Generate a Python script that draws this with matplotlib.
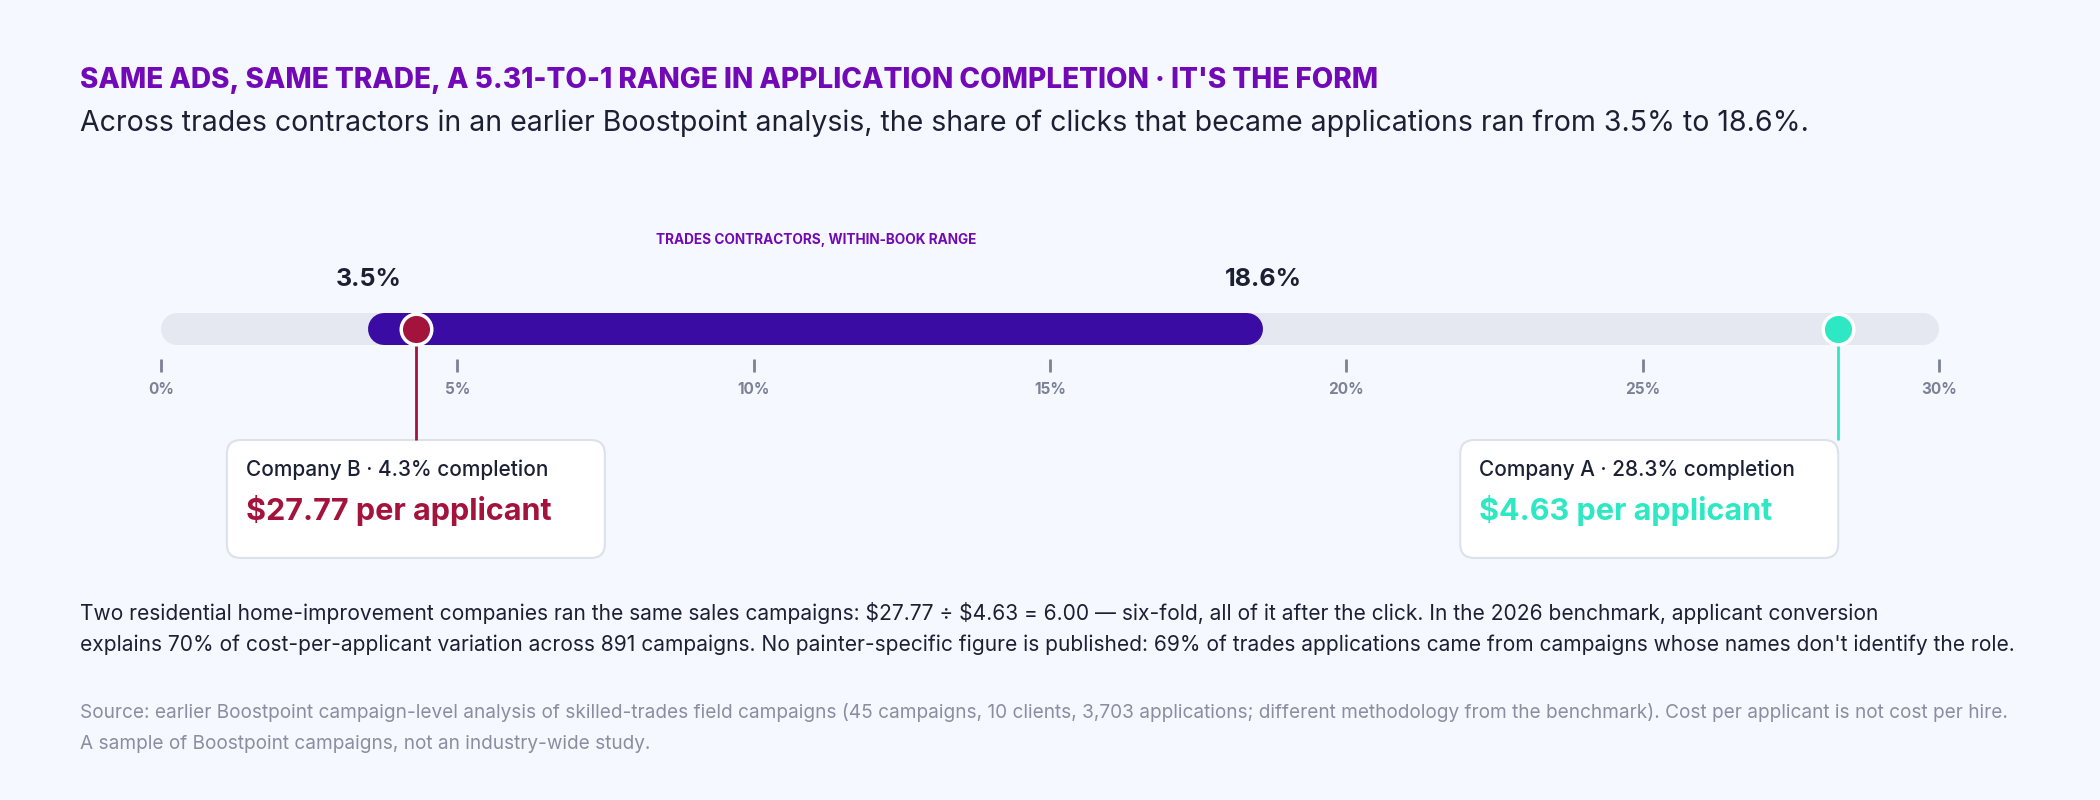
import numpy as np
import matplotlib.pyplot as plt
from matplotlib.patches import FancyBboxPatch

plt.rcParams['font.family'] = ['Inter', 'DejaVu Sans']

title = "SAME ADS, SAME TRADE, A 5.31-TO-1 RANGE IN APPLICATION COMPLETION · IT'S THE FORM"
subtitle = ("Across trades contractors in an earlier Boostpoint analysis, the share of clicks "
            "that became applications ran from 3.5% to 18.6%.")
range_label = "TRADES CONTRACTORS, WITHIN-BOOK RANGE"

scale_min, scale_max = 0, 30
ticks = [0, 5, 10, 15, 20, 25, 30]
range_low, range_high = 3.5, 18.6

companies = ["Company B", "Company A"]
completion = [4.3, 28.3]
cost_per_applicant = [27.77, 4.63]
company_colors = ["#a4133c", "#2ee8c3"]

body = ["Two residential home-improvement companies ran the same sales campaigns: $27.77 \u00f7 $4.63 = 6.00 \u2014 "
        "six-fold, all of it after the click. In the 2026 benchmark, applicant conversion",
        "explains 70% of cost-per-applicant variation across 891 campaigns. No painter-specific figure is published: "
        "69% of trades applications came from campaigns whose names don't identify the role."]
source = ["Source: earlier Boostpoint campaign-level analysis of skilled-trades field campaigns (45 campaigns, 10 clients, "
          "3,703 applications; different methodology from the benchmark). Cost per applicant is not cost per hire.",
          "A sample of Boostpoint campaigns, not an industry-wide study."]

BG = "#f5f8ff"
DARK = "#1c2033"
GRAY = "#7c8196"
PURPLE = "#7209b7"
RANGE = "#3a0ca3"
TRACK = "#e5e8f1"

W, H = 2100, 800
fig = plt.figure(figsize=(W / 100, H / 100), dpi=100, facecolor=BG)

# pixel layer for text and boxes
bg = fig.add_axes([0, 0, 1, 1], zorder=0)
bg.set_xlim(0, W)
bg.set_ylim(H, 0)
bg.axis('off')

# data layer: x in percent, y in pixels
left_px, right_px = 161, 1939
ppp = (right_px - left_px) / (scale_max - scale_min)
ax = fig.add_axes([0, 0, 1, 1], zorder=1)
ax.set_xlim(scale_min - left_px / ppp, scale_min + (W - left_px) / ppp)
ax.set_ylim(H, 0)
ax.axis('off')
ax.patch.set_alpha(0)

track_y = 329
bar_h = 32
cap = (bar_h / 2) / ppp
lw_pt = bar_h * 72 / 100

bg.text(80, 80, title, fontsize=20.1, fontweight='heavy', color=PURPLE, va='center')
bg.text(80, 123, subtitle, fontsize=20.5, color=DARK, va='center')

mid = (range_low + range_high) / 2
ax.text(mid, 240, range_label, fontsize=9.8, fontweight='bold', color=PURPLE, ha='center', va='center')

ax.plot([scale_min + cap, scale_max - cap], [track_y, track_y], color=TRACK, lw=lw_pt,
        solid_capstyle='round', zorder=2)
ax.plot([range_low + cap, range_high - cap], [track_y, track_y], color=RANGE, lw=lw_pt,
        solid_capstyle='round', zorder=3)

for v in [range_low, range_high]:
    ax.text(v, 279, f"{v}%", fontsize=18, fontweight='bold', color=DARK, ha='center', va='center')

ax.vlines(ticks, 359, 372, color=GRAY, lw=2)
for t in ticks:
    ax.text(t, 390, f"{t}%", fontsize=11, fontweight='bold', color=GRAY, ha='center', va='center')

box_w, box_h = 378, 118
box_top = 440
for name, pct, cost, col in zip(companies, completion, cost_per_applicant, company_colors):
    ax.vlines(pct, track_y, box_top, color=col, lw=2, zorder=4)
    ax.plot(pct, track_y, 'o', ms=22, mfc=col, mec='white', mew=2.5, zorder=5)
    xp = ax.transData.transform((pct, 0))[0]
    if pct > 0.8 * scale_max:
        bx = xp - box_w
    else:
        bx = xp - box_w / 2
    box = FancyBboxPatch((bx + 14, box_top + 14), box_w - 28, box_h - 28,
                         boxstyle="round,pad=14", fc='white', ec="#dde1ec", lw=1.5)
    bg.add_patch(box)
    bg.text(bx + 19, 470, f"{name} \u00b7 {pct}% completion", fontsize=15, fontweight='medium',
            color=DARK, va='center')
    bg.text(bx + 19, 511, f"${cost:.2f} per applicant", fontsize=22, fontweight='bold',
            color=col, va='center', parse_math=False)

for i, line in enumerate(body):
    bg.text(80, 613 + 32 * i, line, fontsize=15.1, color=DARK, va='center', parse_math=False)
for i, line in enumerate(source):
    bg.text(80, 712 + 32 * i, line, fontsize=13.7, color="#8a8ea0", va='center', parse_math=False)

fig.savefig("out.png", dpi=100, facecolor=BG)
